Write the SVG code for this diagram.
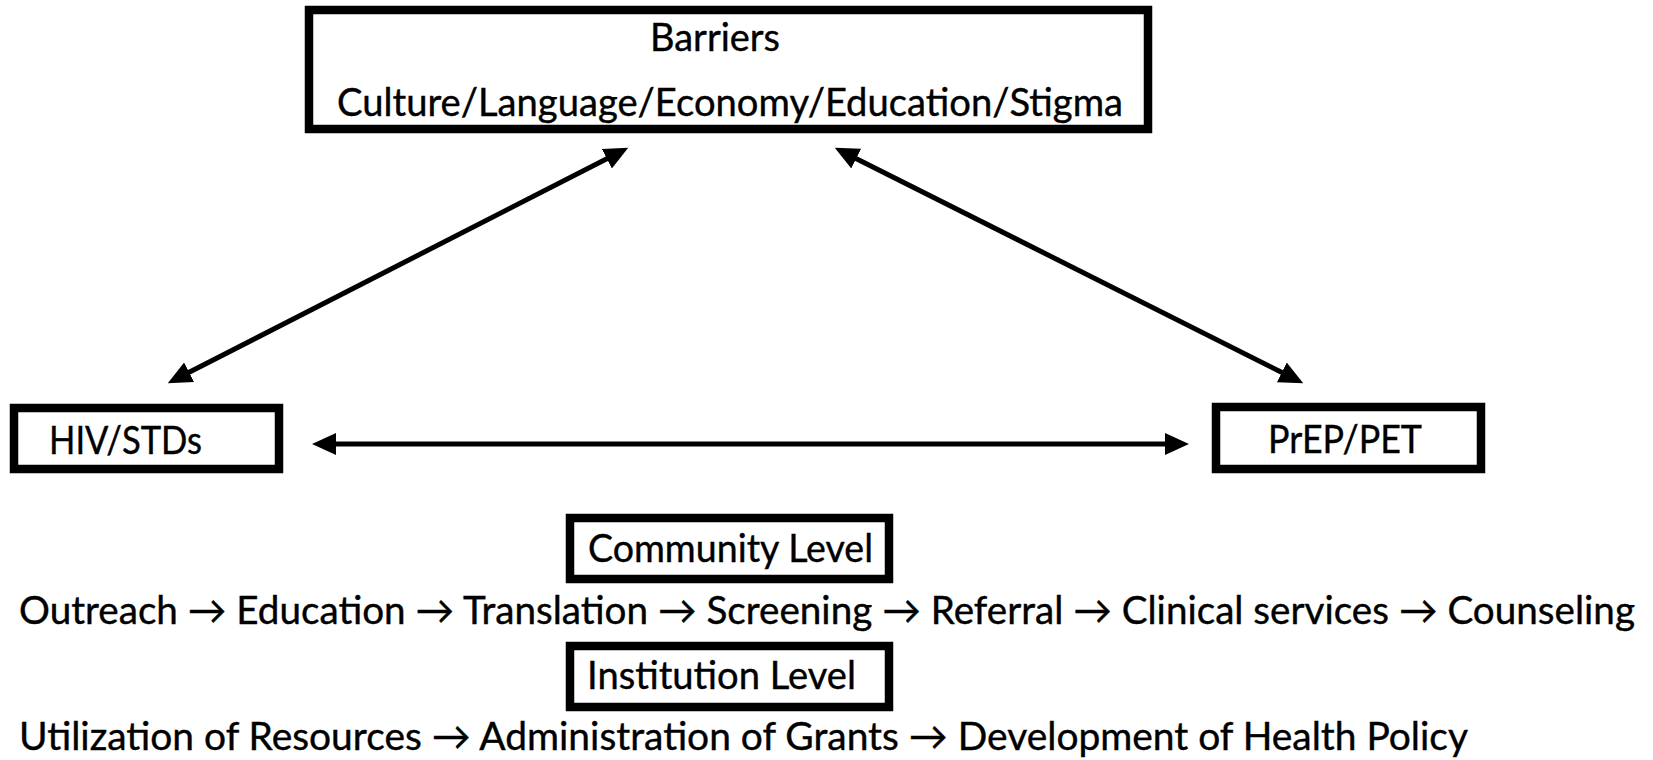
<svg xmlns="http://www.w3.org/2000/svg" width="1653" height="760" viewBox="0 0 1653 760">
  <style>
    .box { fill: #ffffff; stroke: #000000; stroke-width: 8.5; }
    .t { font-family: "Lato", "Liberation Sans", sans-serif; font-size: 39px; fill: #000000; stroke: #000000; stroke-width: 0.4; }
    .conn { stroke: #000000; stroke-width: 5; fill: none; }
  </style>
  <defs>
    <marker id="ah" markerUnits="userSpaceOnUse" markerWidth="26" markerHeight="24" refX="17" refY="11" orient="auto-start-reverse" viewBox="0 0 26 24">
      <path d="M0,0 L24,11 L0,22 z" fill="#000000"/>
    </marker>
  </defs>
  <rect width="1653" height="760" fill="#ffffff"/>

  <g id="barriers">
    <rect class="box" x="309" y="10" width="839" height="119"/>
    <text class="t" x="650" y="51" textLength="130" lengthAdjust="spacingAndGlyphs">Barriers</text>
    <text class="t" x="337" y="116" textLength="786" lengthAdjust="spacingAndGlyphs">Culture/Language/Economy/Education/Stigma</text>
  </g>

  <g id="hiv">
    <rect class="box" x="14" y="408" width="265" height="61"/>
    <text class="t" x="49" y="454" textLength="153" lengthAdjust="spacingAndGlyphs">HIV/STDs</text>
  </g>

  <g id="prep">
    <rect class="box" x="1216" y="407" width="265" height="62"/>
    <text class="t" x="1268" y="453" textLength="154" lengthAdjust="spacingAndGlyphs">PrEP/PET</text>
  </g>

  <g id="connectors">
    <line class="conn" x1="174" y1="380" x2="622" y2="151" marker-start="url(#ah)" marker-end="url(#ah)"/>
    <line class="conn" x1="841" y1="151" x2="1297" y2="380" marker-start="url(#ah)" marker-end="url(#ah)"/>
    <line class="conn" x1="319" y1="444" x2="1182" y2="444" marker-start="url(#ah)" marker-end="url(#ah)"/>
  </g>

  <g id="community">
    <rect class="box" x="570" y="518" width="319" height="61"/>
    <text class="t" x="588" y="562" textLength="285" lengthAdjust="spacingAndGlyphs">Community Level</text>
  </g>

  <g id="community-steps">
    <text class="t" x="19" y="624" textLength="1616" lengthAdjust="spacingAndGlyphs">Outreach → Education → Translation → Screening → Referral → Clinical services → Counseling</text>
  </g>

  <g id="institution">
    <rect class="box" x="570" y="646" width="319" height="61"/>
    <text class="t" x="587" y="689" textLength="269" lengthAdjust="spacingAndGlyphs">Institution Level</text>
  </g>

  <g id="institution-steps">
    <text class="t" x="19" y="750" textLength="1449" lengthAdjust="spacingAndGlyphs">Utilization of Resources → Administration of Grants → Development of Health Policy</text>
  </g>
</svg>
